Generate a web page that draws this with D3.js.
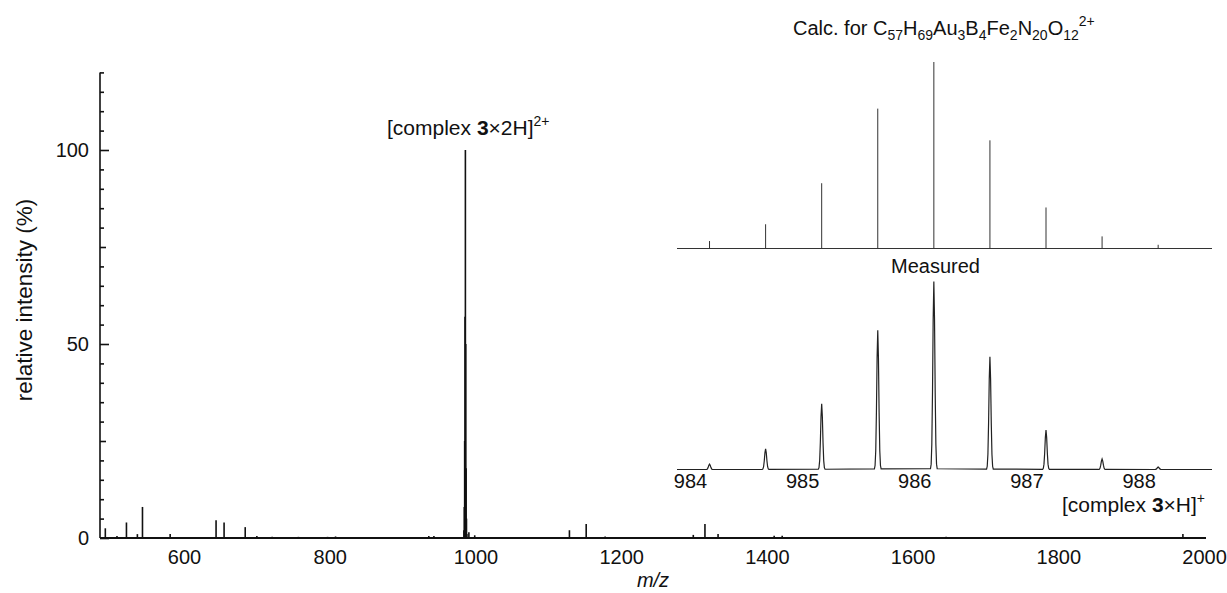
<!DOCTYPE html>
<html><head><meta charset="utf-8">
<script src="https://cdn.jsdelivr.net/npm/d3@7"></script>
<style>
html,body{margin:0;padding:0;background:#fff;}
svg{display:block;font-family:"Liberation Sans",Arial,sans-serif;}
</style></head>
<body>
<svg id="c" width="1227" height="593"></svg>
<script>
// ---- data ----
const mainMz  = [492, 508, 521, 536, 543, 581, 644, 655, 684, 700, 721, 757, 797, 808, 936, 943,
                 984.2, 984.7, 985.2, 985.7, 986.2, 986.7, 987.2, 987.7, 988.2, 991, 999,
                 1129, 1152, 1178, 1299, 1315, 1333, 1410, 1421, 1646, 1971];
const mainInt = [2.5, 0.5, 4, 1, 8, 1, 4.6, 4, 2.8, 0.5, 0.3, 0.3, 0.3, 0.4, 0.5, 0.5,
                 2, 8, 25, 57, 100, 50, 18, 5, 1, 1.5, 0.7,
                 2, 3.6, 0.4, 0.8, 3.6, 1, 0.6, 0.6, 0.3, 1];
const isoMz   = [984.17, 984.67, 985.17, 985.67, 986.17, 986.67, 987.17, 987.67, 988.17];
const calcInt = [4, 13, 35, 75, 100, 58, 22, 6.5, 2];
const measInt = [2.8, 11, 35, 74, 100, 60, 21, 5.6, 1.3];
const xTicks  = [600, 800, 1000, 1200, 1400, 1600, 1800, 2000];
const yTicks  = [0, 50, 100];
const insetTicks = [984, 985, 986, 987, 988];

// ---- scales ----
const svg = d3.select("#c");
const x = d3.scaleLinear().domain([484.7, 2002.7]).range([100, 1206]);
const y = d3.scaleLinear().domain([0, 120]).range([538, 72.4]);
const xi = d3.scaleLinear().domain([983.88, 988.65]).range([677, 1212]);
const yCalc = d3.scaleLinear().domain([0, 100]).range([248.5, 62]);
const yMeas = d3.scaleLinear().domain([0, 100]).range([469.5, 281.5]);

const FS = 20;

// ---- main axes ----
const gy = svg.append("g").attr("transform", "translate(100,0)")
  .call(d3.axisRight(y).tickValues(d3.range(0, 121, 5)).tickSize(4).tickFormat(""));
gy.selectAll(".tick line").attr("x2", d => d % 50 === 0 ? 9 : (d % 25 === 0 ? 6 : 4));
gy.select(".domain").attr("d", `M0,${y(0)}V${y(120)}`);
gy.selectAll("path,line").attr("stroke", "#111").attr("stroke-width", 1.6);

svg.append("g").selectAll("text").data(yTicks).join("text")
  .attr("x", 89).attr("y", d => y(d)).attr("dy", "0.36em")
  .attr("text-anchor", "end").attr("font-size", FS).attr("fill", "#111").text(d => d);

const gx = svg.append("g").attr("transform", `translate(0,${y(0)})`)
  .call(d3.axisBottom(x).tickValues(xTicks).tickSize(0).tickPadding(12).tickFormat(d3.format("d")));
gx.select(".domain").attr("d", `M${x(484.7)},0H${x(2002.7)}`).attr("stroke", "#111").attr("stroke-width", 1.8);
gx.selectAll("text").attr("font-size", FS).attr("fill", "#111").attr("font-family", "Liberation Sans, Arial, sans-serif");

svg.append("text").attr("x", 653).attr("y", 587).attr("text-anchor", "middle")
  .attr("font-size", FS).attr("font-style", "italic").attr("fill", "#111").text("m/z");
svg.append("text").attr("transform", "translate(24,300) rotate(-90)").attr("text-anchor", "middle")
  .attr("dy", "0.35em").attr("font-size", 22.5).attr("fill", "#111").text("relative intensity (%)");

// ---- main spectrum sticks ----
const mainData = mainMz.map((m, i) => ({m, v: mainInt[i]}));
svg.append("g").selectAll("line").data(mainData).join("line")
  .attr("x1", d => x(d.m)).attr("x2", d => x(d.m))
  .attr("y1", y(0)).attr("y2", d => y(d.v))
  .attr("stroke", "#111").attr("stroke-width", 1.6);

// ---- labels on main ----
const t1 = svg.append("text").attr("x", 387).attr("y", 135).attr("font-size", 21).attr("fill", "#111");
t1.append("tspan").text("[complex ");
t1.append("tspan").attr("font-weight", "bold").text("3");
t1.append("tspan").text("×2H]");
t1.append("tspan").attr("font-size", 14).attr("dy", -9).text("2+");

const t2 = svg.append("text").attr("x", 1062).attr("y", 512).attr("font-size", 21).attr("fill", "#111");
t2.append("tspan").text("[complex ");
t2.append("tspan").attr("font-weight", "bold").text("3");
t2.append("tspan").text("×H]");
t2.append("tspan").attr("font-size", 14).attr("dy", -9).text("+");

// ---- inset: calculated ----
svg.append("line").attr("x1", xi.range()[0]).attr("x2", xi.range()[1])
  .attr("y1", yCalc(0)).attr("y2", yCalc(0)).attr("stroke", "#333").attr("stroke-width", 1);
const calcData = isoMz.map((m, i) => ({m, v: calcInt[i]}));
svg.append("g").selectAll("line").data(calcData).join("line")
  .attr("x1", d => xi(d.m)).attr("x2", d => xi(d.m))
  .attr("y1", yCalc(0)).attr("y2", d => yCalc(d.v))
  .attr("stroke", "#333").attr("stroke-width", 1);

const tc = svg.append("text").attr("x", 793).attr("y", 35).attr("font-size", 20).attr("fill", "#111");
const parts = [["Calc. for C",0],["57",1],["H",0],["69",1],["Au",0],["3",1],["B",0],["4",1],["Fe",0],["2",1],["N",0],["20",1],["O",0],["12",1],["2+",2]];
let state = 0;
parts.forEach(([s, k]) => {
  const ts = tc.append("tspan").text(s);
  const target = k === 1 ? 5 : (k === 2 ? -9 : 0);
  if (k !== 0) ts.attr("font-size", 14);
  ts.attr("dy", target - state); state = target;
});

// ---- inset: measured ----
svg.append("text").attr("x", 935.5).attr("y", 273).attr("text-anchor", "middle")
  .attr("font-size", FS).attr("fill", "#111").text("Measured");

const prof = [];
prof.push([xi.domain()[0], 0]);
const sig = 0.009;
isoMz.forEach((m, i) => {
  for (let k = -5; k <= 5; k++) {
    const dm = k * 0.006;
    prof.push([m + dm, measInt[i] * Math.exp(-dm * dm / (2 * sig * sig))]);
  }
});
prof.push([xi.domain()[1], 0]);
svg.append("path").datum(prof)
  .attr("d", d3.line().x(d => xi(d[0])).y(d => yMeas(d[1])))
  .attr("fill", "none").attr("stroke", "#222").attr("stroke-width", 1.2);

svg.append("g").selectAll("text").data(insetTicks).join("text")
  .attr("x", d => xi(d)).attr("y", 488).attr("text-anchor", "middle")
  .attr("font-size", FS).attr("fill", "#111").text(d => d);
</script>
</body></html>
